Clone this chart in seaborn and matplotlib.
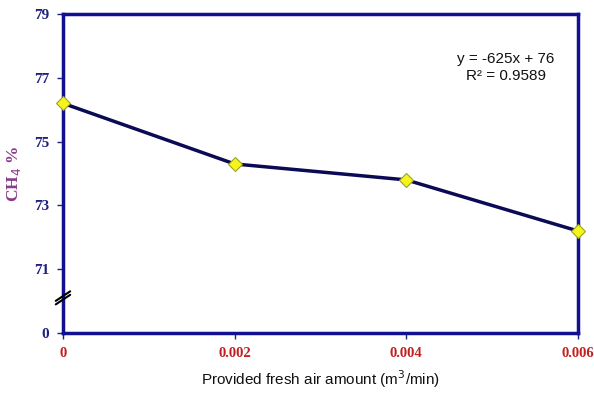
import numpy as np
import pandas as pd
import matplotlib
matplotlib.use("Agg")
import matplotlib.pyplot as plt
import seaborn as sns

air = [0.0, 0.002, 0.004, 0.006]
ch4 = [76.2, 74.3, 73.8, 72.2]
xticks = [0, 0.002, 0.004, 0.006]
xtick_labels = ["0", "0.002", "0.004", "0.006"]
yticks = [0, 71, 73, 75, 77, 79]
ytick_labels = ["0", "71", "73", "75", "77", "79"]

df = pd.DataFrame({"air": air, "ch4": ch4})

sns.set_theme(style="white")
fig = plt.figure(figsize=(5.94, 3.98), dpi=100)
ax = fig.add_axes([0.106, 0.163, 0.867, 0.802])

def fwd(v):
    v = np.asarray(v, dtype=float)
    return np.where(v < 71, v / 71.0, 1 + (v - 71) / 2.0)

def inv(p):
    p = np.asarray(p, dtype=float)
    return np.where(p < 1, p * 71.0, 71 + 2.0 * (p - 1))

ax.set_yscale("function", functions=(fwd, inv))

sns.lineplot(data=df, x="air", y="ch4", ax=ax, color="#0a0a55", linewidth=2.5,
             marker="D", markersize=7, markerfacecolor="#f5f51e",
             markeredgecolor="#a0a020", markeredgewidth=0.8, clip_on=False, zorder=5)

ax.set_xlim(0, 0.006)
ax.set_ylim(0, 79)
ax.set_xticks(xticks)
ax.set_xticklabels(xtick_labels, fontfamily="Liberation Serif", fontweight="bold",
                   color="#c02020", fontsize=10.5)
ax.set_yticks(yticks)
ax.set_yticklabels(ytick_labels, fontfamily="Liberation Serif", fontweight="bold",
                   color="#202080", fontsize=11)
ax.yaxis.set_minor_locator(matplotlib.ticker.NullLocator())
ax.tick_params(axis="both", which="major", direction="out", length=4, width=1,
               color="#202080", left=True, bottom=True, pad=6)

for s in ax.spines.values():
    s.set_color("#101090")
    s.set_linewidth(2.5)

ax.set_xlabel("Provided fresh air amount (m$^3$/min)", fontfamily="Liberation Sans",
              fontsize=11, color="#111111", labelpad=6)
ax.set_ylabel("CH$_4$ %", fontfamily="Liberation Serif", fontweight="bold",
              fontsize=12.5, color="#8a3a8a", labelpad=8)

ax.text(0.86, 0.833, "y = -625x + 76\nR² = 0.9589", transform=ax.transAxes,
        ha="center", va="center", fontfamily="Liberation Sans", fontsize=11,
        color="#111111", linespacing=1.3)

# axis break mark
for dy in (0.0, 0.011):
    ax.plot([-0.014, 0.014], [0.09 + dy, 0.12 + dy], transform=ax.transAxes,
            color="black", linewidth=1.5, clip_on=False, zorder=10)

ax.grid(False)
fig.savefig("out.png", dpi=100)
